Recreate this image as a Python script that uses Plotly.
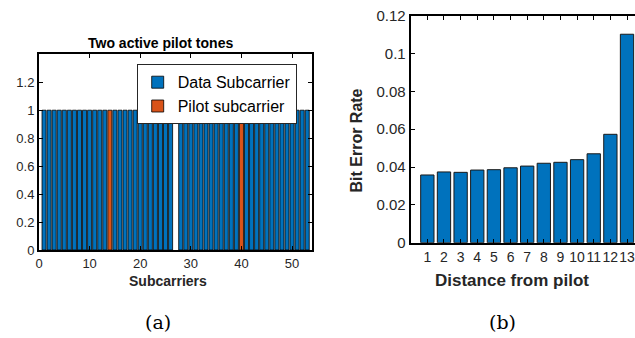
import plotly.graph_objects as go
from plotly.subplots import make_subplots

# ---- data: panel (a) ----
data_subcarriers = [1, 2, 3, 4, 5, 6, 7, 8, 9, 10, 11, 12, 13,
                    15, 16, 17, 18, 19, 20, 21, 22, 23, 24, 25, 26,
                    28, 29, 30, 31, 32, 33, 34, 35, 36, 37, 38, 39,
                    41, 42, 43, 44, 45, 46, 47, 48, 49, 50, 51, 52, 53]
data_values = [1] * len(data_subcarriers)
pilot_subcarriers = [14, 40]
pilot_values = [1, 1]

# ---- data: panel (b) ----
distance = [1, 2, 3, 4, 5, 6, 7, 8, 9, 10, 11, 12, 13]
ber = [0.0358, 0.0374, 0.0372, 0.0384, 0.0386, 0.0396, 0.0405,
       0.0420, 0.0425, 0.0439, 0.0470, 0.0573, 0.1102]

BLUE = "#0072BD"
ORANGE = "#D95319"
FONT = "Liberation Sans"
TXT = "#262626"

W, H = 635, 338

def px_x(p):
    return p / W

def px_y(p):
    return (H - p) / H

fig = make_subplots(rows=1, cols=2)

fig.add_trace(go.Bar(x=data_subcarriers, y=data_values, width=0.8,
                     name="Data Subcarrier",
                     marker=dict(color=BLUE, line=dict(color="black", width=0.8))),
              row=1, col=1)
fig.add_trace(go.Bar(x=pilot_subcarriers, y=pilot_values, width=0.8,
                     name="Pilot subcarrier",
                     marker=dict(color=ORANGE, line=dict(color="black", width=0.8))),
              row=1, col=1)
fig.add_trace(go.Bar(x=distance, y=ber, width=0.8, showlegend=False,
                     marker=dict(color=BLUE, line=dict(color="#1a1a1a", width=1))),
              row=1, col=2)

axis_common = dict(showgrid=False, zeroline=False, showline=True,
                   linecolor="black", linewidth=2, ticks="inside",
                   ticklen=4, tickcolor="black", tickwidth=1,
                   automargin=False, fixedrange=True, tickangle=0,
                   ticklabeloverflow="allow")

fig.update_layout(
    width=W, height=H,
    margin=dict(l=0, r=0, t=0, b=0),
    paper_bgcolor="white", plot_bgcolor="white",
    barmode="overlay",
    font=dict(family=FONT, color=TXT),
    xaxis=dict(axis_common, domain=[px_x(39), px_x(312.3)], range=[0, 54],
               tickvals=[0, 10, 20, 30, 40, 50], mirror="ticks",
               tickfont=dict(size=13, color=TXT, family=FONT)),
    yaxis=dict(axis_common, domain=[px_y(250), px_y(54.3)], range=[0, 1.4],
               tickvals=[0, 0.2, 0.4, 0.6, 0.8, 1, 1.2], mirror="ticks",
               tickfont=dict(size=13, color=TXT, family=FONT)),
    xaxis2=dict(axis_common, domain=[px_x(410.7), 1.0], range=[0, 13.48],
                tickvals=distance, mirror="ticks",
                tickfont=dict(size=14, color=TXT, family=FONT)),
    yaxis2=dict(axis_common, domain=[px_y(242.7), px_y(15.7)], range=[0, 0.12],
                tickvals=[0, 0.02, 0.04, 0.06, 0.08, 0.1, 0.12],
                tickfont=dict(size=15, color=TXT, family=FONT)),
    legend=dict(x=px_x(136.7), y=px_y(64.3), xanchor="left", yanchor="top",
                bgcolor="white", bordercolor=TXT, borderwidth=1,
                font=dict(size=16, color="black", family=FONT),
                tracegroupgap=0, itemwidth=30),
    showlegend=True,
)

annotations = [
    dict(text="<b>Two active pilot tones</b>", x=px_x(160.5), y=px_y(43.3),
         font=dict(size=14, color="black", family=FONT)),
    dict(text="<b>Subcarriers</b>", x=px_x(168.3), y=px_y(281),
         font=dict(size=14, color=TXT, family=FONT)),
    dict(text="<b>Distance from pilot</b>", x=px_x(511.7), y=px_y(280),
         font=dict(size=17, color=TXT, family=FONT)),
    dict(text="<b>Bit Error Rate</b>", x=px_x(356.7), y=px_y(140.8),
         textangle=-90, font=dict(size=16, color=TXT, family=FONT)),
    dict(text="(a)", x=px_x(157.7), y=px_y(322),
         font=dict(size=19, color="black", family="DejaVu Serif")),
    dict(text="(b)", x=px_x(502.5), y=px_y(322),
         font=dict(size=19, color="black", family="DejaVu Serif")),
]
for a in annotations:
    a.update(xref="paper", yref="paper", showarrow=False,
             xanchor="center", yanchor="middle")
fig.update_layout(annotations=annotations)

fig.write_html("out.html")
